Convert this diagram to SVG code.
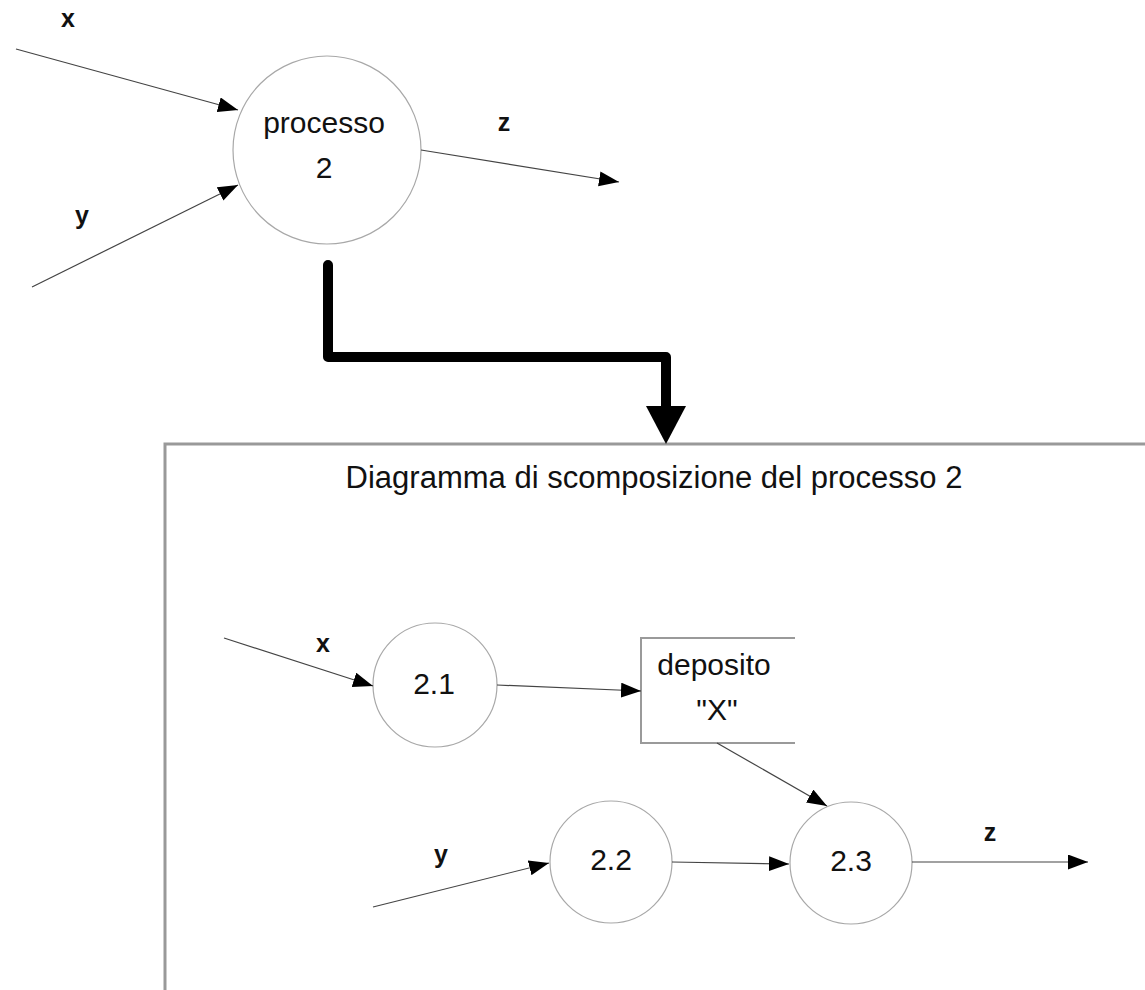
<svg xmlns="http://www.w3.org/2000/svg" width="1145" height="990" viewBox="0 0 1145 990">
<style>
.bg{fill:#ffffff}
.node{fill:#ffffff;stroke:#a8a8a8;stroke-width:1.2}
.store{fill:none;stroke:#9a9a9a;stroke-width:2}
.conn{fill:none;stroke:#444444;stroke-width:1.2}
.lbl{font-family:"Liberation Sans",Arial,sans-serif;font-size:30px;fill:#111111;text-anchor:middle}
.flow{font-family:"Liberation Sans",Arial,sans-serif;font-size:25px;font-weight:bold;fill:#111111;text-anchor:middle}
.title{font-family:"Liberation Sans",Arial,sans-serif;font-size:31px;fill:#111111;text-anchor:middle}
.frame{fill:none;stroke:#999999;stroke-width:3}
.thick{fill:none;stroke:#000000;stroke-width:10;stroke-linejoin:round;stroke-linecap:round}
</style>
<defs>
<marker id="ah" markerUnits="userSpaceOnUse" markerWidth="21" markerHeight="16" refX="20" refY="7.5" orient="auto">
<path d="M0,0 L20,7.5 L0,15 z" fill="#000000"/>
</marker>
</defs>
<rect class="bg" x="0" y="0" width="1145" height="990"/>

<g id="frame">
<path class="frame" d="M165,990 V444 H1145"/>
<text class="title" x="654" y="488">Diagramma di scomposizione del processo 2</text>
</g>

<g id="node-processo2">
<circle class="node" cx="327" cy="150" r="94"/>
<text class="lbl" x="324" y="133">processo</text>
<text class="lbl" x="324" y="178">2</text>
</g>

<g id="node-2-1">
<circle class="node" cx="435" cy="685" r="62"/>
<text class="lbl" x="434" y="694">2.1</text>
</g>

<g id="node-deposito">
<path class="store" d="M795,638 H641 V743 H795"/>
<text class="lbl" x="714" y="675">deposito</text>
<text class="lbl" x="717" y="720">"X"</text>
</g>

<g id="node-2-2">
<circle class="node" cx="611" cy="862" r="61"/>
<text class="lbl" x="611" y="870">2.2</text>
</g>

<g id="node-2-3">
<circle class="node" cx="851" cy="863" r="61"/>
<text class="lbl" x="851" y="871">2.3</text>
</g>

<g id="connectors">
<line class="conn" x1="16" y1="49" x2="238" y2="110" marker-end="url(#ah)"/>
<line class="conn" x1="32" y1="287" x2="238" y2="185" marker-end="url(#ah)"/>
<line class="conn" x1="421" y1="150" x2="619" y2="182" marker-end="url(#ah)"/>
<path class="thick" d="M328,265 V357 H666 V408"/>
<polygon points="646,406 686,406 666,444" fill="#000000"/>
<line class="conn" x1="224" y1="638" x2="373" y2="686" marker-end="url(#ah)"/>
<line class="conn" x1="497" y1="685" x2="641" y2="691" marker-end="url(#ah)"/>
<line class="conn" x1="717" y1="743" x2="827" y2="806" marker-end="url(#ah)"/>
<line class="conn" x1="373" y1="907" x2="549" y2="863" marker-end="url(#ah)"/>
<line class="conn" x1="672" y1="862" x2="789" y2="864" marker-end="url(#ah)"/>
<line class="conn" x1="912" y1="862" x2="1088" y2="862" marker-end="url(#ah)"/>
<text class="flow" x="68" y="27">x</text>
<text class="flow" x="82" y="224">y</text>
<text class="flow" x="504" y="131">z</text>
<text class="flow" x="323" y="652">x</text>
<text class="flow" x="441" y="863">y</text>
<text class="flow" x="990" y="841">z</text>
</g>
</svg>
